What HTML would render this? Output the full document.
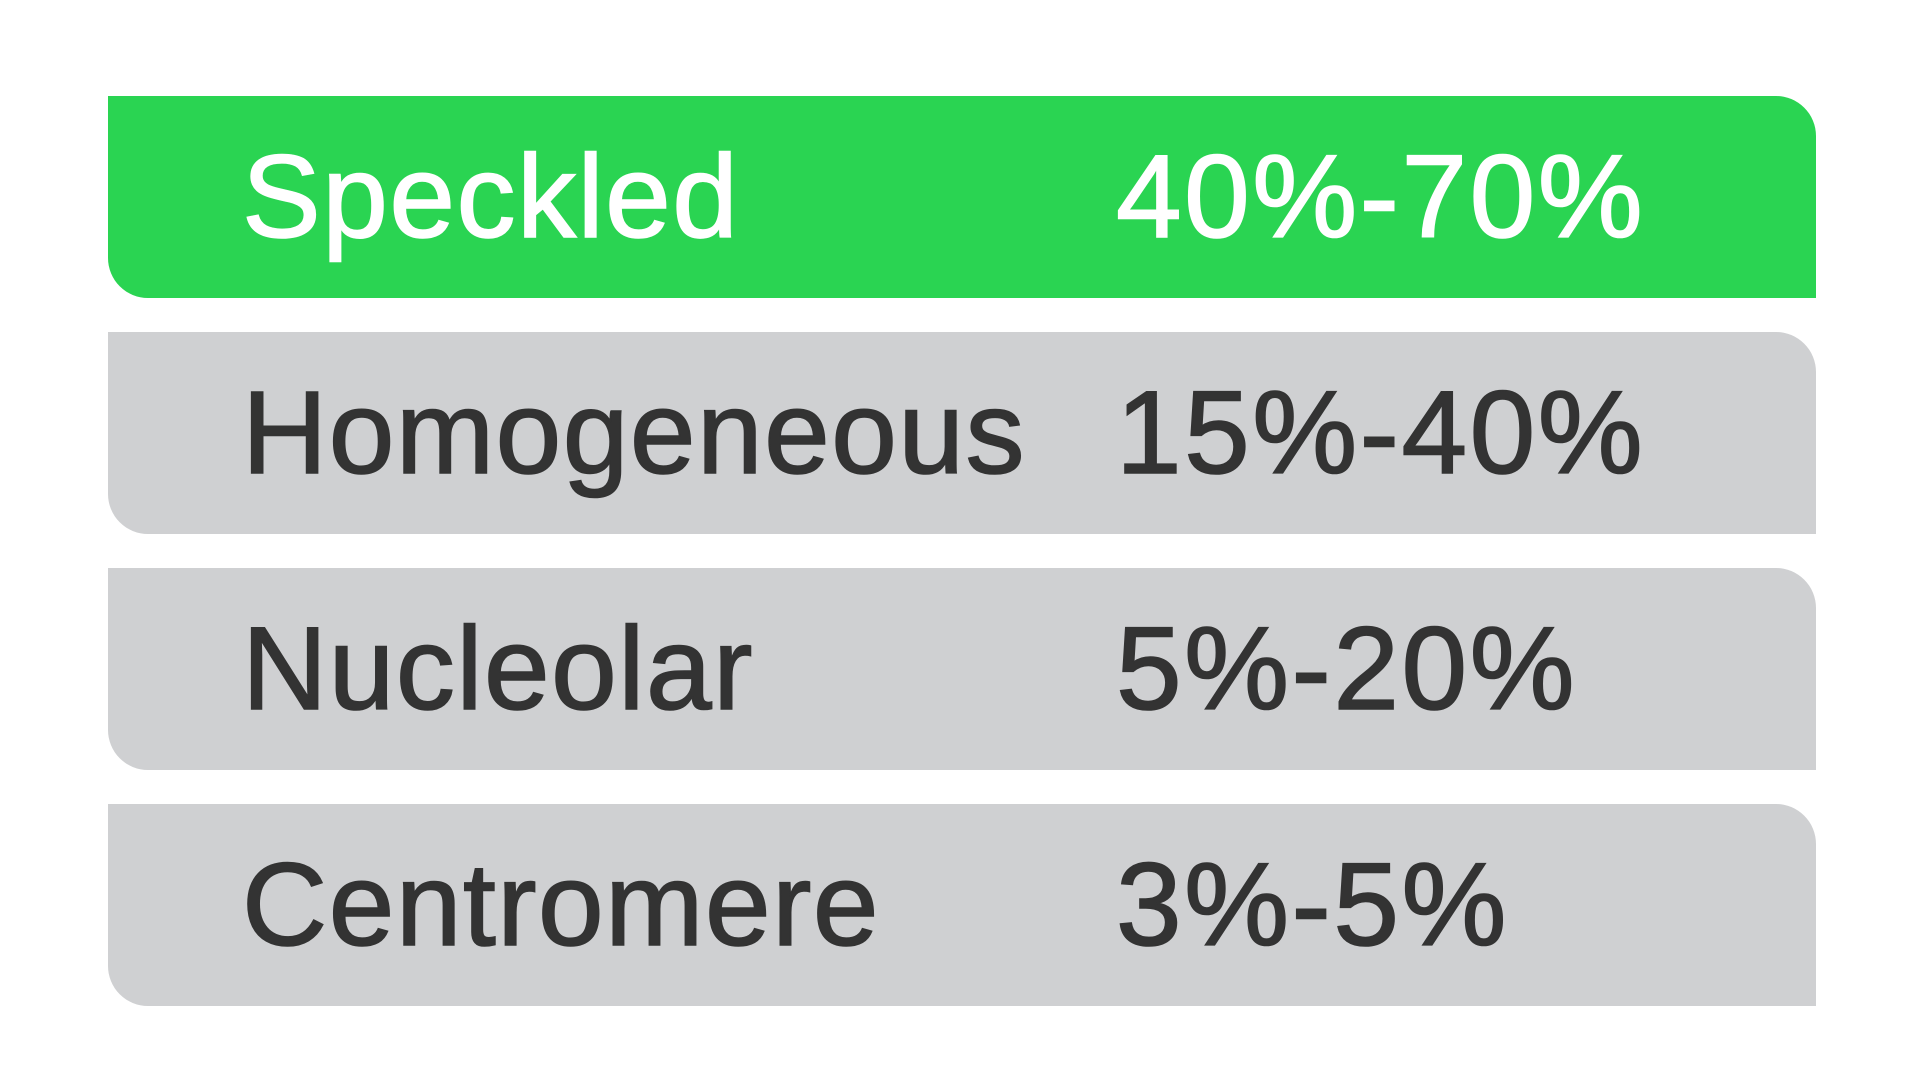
<!DOCTYPE html>
<html><head><meta charset="utf-8"><style>
html,body{margin:0;padding:0;width:1920px;height:1080px;background:#fff;overflow:hidden;font-family:"Liberation Sans",Arial,sans-serif}
.row{position:absolute;left:108px;width:1708px;height:202px;border-radius:0 40px 0 40px;background:#cfd0d2;color:#333}
.row.hl{background:#2ad452;color:#fff}
.lbl,.val{position:absolute;top:0;line-height:202px;font-size:118px;white-space:nowrap;-webkit-text-stroke:1.6px currentColor;letter-spacing:1.5px}
.lbl{left:134px}.val{left:1008px;letter-spacing:2.5px}
</style></head><body>
<div>
<div class="row hl" style="top:96px"><span class="lbl">Speckled</span><span class="val">40%-70%</span></div>
<div class="row" style="top:332px"><span class="lbl">Homogeneous</span><span class="val">15%-40%</span></div>
<div class="row" style="top:568px"><span class="lbl">Nucleolar</span><span class="val">5%-20%</span></div>
<div class="row" style="top:804px"><span class="lbl">Centromere</span><span class="val">3%-5%</span></div>
</div>
</body></html>
